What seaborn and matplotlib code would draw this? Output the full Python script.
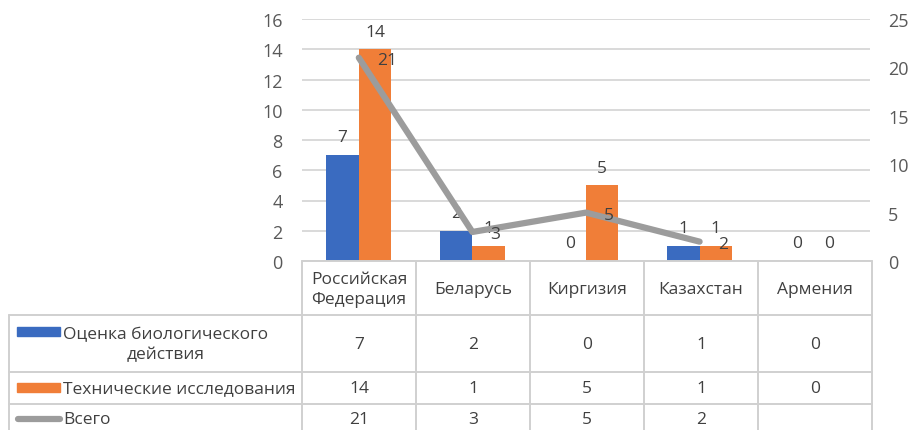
import numpy as np
import pandas as pd
import matplotlib
matplotlib.use("Agg")
import matplotlib.pyplot as plt
import seaborn as sns
from matplotlib.lines import Line2D
from matplotlib.patches import Rectangle

# ---------------- data ----------------
countries = ["Российская\nФедерация", "Беларусь", "Киргизия", "Казахстан", "Армения"]
series_names = ["Оценка биологического\nдействия", "Технические исследования", "Всего"]
bio_vals = [7, 2, 0, 1, 0]
tech_vals = [14, 1, 5, 1, 0]
total_vals = [21, 3, 5, 2, None]
left_ticks = [0, 2, 4, 6, 8, 10, 12, 14, 16]
right_ticks = [0, 5, 10, 15, 20, 25]

# ---------------- style ----------------
BLUE = "#3A6BC0"
ORANGE = "#F07E38"
GRAY = "#9C9C9C"
TXT = "#404040"
TICK = "#595959"
GRID = "#D9D9D9"
TABLE = "#D0D0D0"

sns.set_theme(style="white")
plt.rcParams["font.family"] = ["Open Sans", "DejaVu Sans"]

W, H = 910, 431
fig = plt.figure(figsize=(W / 100, H / 100), dpi=100)
fig.patch.set_facecolor("white")


def fx(x):
    return x / W


def fy(y):
    return 1 - y / H


ax = fig.add_axes([fx(302), fy(262), fx(870) - fx(302), fy(20) - fy(262)])

df = pd.DataFrame({
    "country": countries * 2,
    "value": bio_vals + tech_vals,
    "series": [series_names[0]] * len(countries) + [series_names[1]] * len(countries),
})
sns.barplot(data=df, x="country", y="value", hue="series", order=countries,
            hue_order=series_names[:2], palette=[BLUE, ORANGE], width=0.57,
            saturation=1, ax=ax, legend=False, edgecolor="none", linewidth=0)
for cont in ax.containers:
    ax.bar_label(cont, padding=7, fontsize=12.5, color=TXT)

ax.set_ylim(0, 16)
ax.set_yticks(left_ticks)
ax.set_xlim(-0.5, len(countries) - 0.5)
ax.yaxis.grid(True, color=GRID, lw=1.4)
ax.set_axisbelow(True)
ax.set_xlabel("")
ax.set_ylabel("")
ax.tick_params(axis="x", labelbottom=False, length=0)
ax.tick_params(axis="y", length=0, pad=14, labelsize=13, labelcolor=TICK)
for s in ax.spines.values():
    s.set_visible(False)
ax.patch.set_alpha(0)

ax2 = ax.twinx()
tx = [i for i, v in enumerate(total_vals) if v is not None]
ty = [v for v in total_vals if v is not None]
sns.lineplot(x=tx, y=ty, ax=ax2, color=GRAY, lw=4.5, solid_capstyle="round")
for xv, yv in zip(tx, ty):
    ax2.annotate(str(yv), (xv, yv), xytext=(13, -1.5), textcoords="offset points",
                 ha="left", va="center", fontsize=12.5, color=TXT)
ax2.set_ylim(0, 25)
ax2.set_yticks(right_ticks)
ax2.set_ylabel("")
ax2.tick_params(axis="y", length=0, pad=13, labelsize=13, labelcolor=TICK)
for s in ax2.spines.values():
    s.set_visible(False)

# ---------------- data table ----------------
col_edges = [302, 416, 530, 644, 758, 872]
centers = [(col_edges[i] + col_edges[i + 1]) / 2 for i in range(len(countries))]


def hline(y, x0, x1):
    fig.add_artist(Line2D([fx(x0), fx(x1)], [fy(y), fy(y)], color=TABLE, lw=1.4))


def vline(x, y0, y1):
    fig.add_artist(Line2D([fx(x), fx(x)], [fy(y0), fy(y1)], color=TABLE, lw=1.4))


hline(262, 302, 872)
for yy in (316, 373, 405):
    hline(yy, 9, 872)
vline(9, 316, 431)
for xx in col_edges:
    vline(xx, 262, 431)

FS = 12.5
for c, name in zip(centers, countries):
    fig.text(fx(c), fy(290), name, ha="center", va="center", fontsize=FS,
             color=TXT, linespacing=1.3)

row_y = [345, 389, 420]
rows = [bio_vals, tech_vals, total_vals]
for ry, vals in zip(row_y, rows):
    for c, v in zip(centers, vals):
        if v is not None:
            fig.text(fx(c), fy(ry), str(v), ha="center", va="center",
                     fontsize=FS, color=TXT)

# legend keys + series names
fig.add_artist(Rectangle((fx(17), fy(337)), fx(60) - fx(17), fy(328) - fy(337),
                         color=BLUE, transform=fig.transFigure))
fig.add_artist(Rectangle((fx(17), fy(393)), fx(60) - fx(17), fy(384) - fy(393),
                         color=ORANGE, transform=fig.transFigure))
fig.add_artist(Line2D([fx(18), fx(60)], [fy(420), fy(420)], color=GRAY, lw=4.5,
                      solid_capstyle="round"))
fig.text(fx(166), fy(345), series_names[0], ha="center", va="center",
         fontsize=FS, color=TXT, linespacing=1.3, multialignment="center")
fig.text(fx(63), fy(389), series_names[1], ha="left", va="center",
         fontsize=FS, color=TXT)
fig.text(fx(63), fy(420), series_names[2], ha="left", va="center",
         fontsize=FS, color=TXT)

fig.savefig("out.png", dpi=100, facecolor="white")
